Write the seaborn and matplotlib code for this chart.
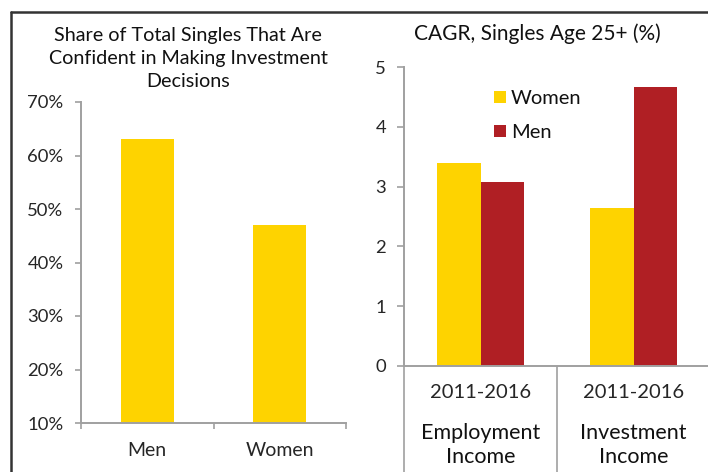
import matplotlib
matplotlib.use("Agg")
import matplotlib.pyplot as plt
import matplotlib.transforms as mtransforms
from matplotlib.lines import Line2D
import seaborn as sns
import pandas as pd

# ---- data ----
left_categories = ["Men", "Women"]
left_values = [63, 47]

right_groups = ["Employment\nIncome", "Investment\nIncome"]
right_period = ["2011-2016", "2011-2016"]
right_series = ["Women", "Men"]
women_cagr = [3.4, 2.65]
men_cagr = [3.08, 4.66]

left_title = "Share of Total Singles That Are\nConfident in Making Investment\nDecisions"
right_title = "CAGR, Singles Age 25+ (%)"

YELLOW = "#FED300"
RED = "#B01F24"
GRAY = "#A0A0A0"

sns.set_theme(style="white")
plt.rcParams["font.family"] = ["Lato", "DejaVu Sans"]
plt.rcParams["text.color"] = "#111111"

fig = plt.figure(figsize=(7.08, 4.72), dpi=100)
W, H = 708, 472

def ax_rect(x0, x1, ytop, ybot):
    return [x0 / W, 1 - ybot / H, (x1 - x0) / W, (ybot - ytop) / H]

# ---- left panel ----
axL = fig.add_axes(ax_rect(81, 346, 102, 423))
dfL = pd.DataFrame({"cat": left_categories, "val": left_values})
sns.barplot(data=dfL, x="cat", y="val", color=YELLOW, width=0.4, ax=axL,
            saturation=1, edgecolor="none")
axL.set_xlim(-0.5, 1.5)
axL.set_ylim(10, 70)
axL.set_yticks(range(10, 71, 10))
axL.set_yticklabels([f"{v}%" for v in range(10, 71, 10)])
axL.set_xlabel("")
axL.set_ylabel("")
axL.set_xticks([0, 1])
axL.set_xticklabels(left_categories)
axL.set_xticks([-0.5, 0.5, 1.5], minor=True)
axL.tick_params(axis="x", which="major", length=0, pad=14, labelsize=14)
axL.tick_params(axis="x", which="minor", length=4.5, width=1.2, color=GRAY, direction="out", bottom=True)
axL.tick_params(axis="y", length=4.5, width=1.2, color=GRAY, direction="out", left=True, pad=8, labelsize=13.3)
for s in ["top", "right"]:
    axL.spines[s].set_visible(False)
for s in ["left", "bottom"]:
    axL.spines[s].set_color(GRAY)
    axL.spines[s].set_linewidth(1.4)

fig.text(188 / W, 1 - 58.5 / H, left_title, ha="center", va="center", fontsize=14.2,
         linespacing=1.45)

# ---- right panel ----
axR = fig.add_axes(ax_rect(404, 710, 67, 366))
dfR = pd.DataFrame({
    "group": right_groups * 2,
    "series": [right_series[0]] * 2 + [right_series[1]] * 2,
    "val": women_cagr + men_cagr,
})
sns.barplot(data=dfR, x="group", y="val", hue="series", hue_order=right_series,
            palette=[YELLOW, RED], width=0.57, gap=0, ax=axR, saturation=1,
            edgecolor="none")
axR.set_xlim(-0.5, 1.5)
axR.set_ylim(0, 5)
axR.set_yticks(range(0, 6))
axR.set_xlabel("")
axR.set_ylabel("")
axR.set_xticks([0, 1])
axR.set_xticklabels(right_period)
axR.set_xticks([-0.5, 0.5, 1.5], minor=True)
axR.tick_params(axis="x", which="major", length=0, pad=13, labelsize=14.5)
axR.tick_params(axis="x", which="minor", length=76, width=1.2, color=GRAY, direction="out", bottom=True)
axR.tick_params(axis="y", length=5, width=1.2, color=GRAY, direction="out", left=True, pad=8, labelsize=13.3)
for s in ["top", "right"]:
    axR.spines[s].set_visible(False)
for s in ["left", "bottom"]:
    axR.spines[s].set_color(GRAY)
    axR.spines[s].set_linewidth(1.4)

trans = mtransforms.blended_transform_factory(axR.transData, fig.transFigure)
for i, g in enumerate(right_groups):
    axR.text(i, 1 - 445 / H, g, transform=trans, ha="center", va="center",
             fontsize=15.5, linespacing=1.3)

leg = axR.legend(loc="upper left", bbox_to_anchor=((486 - 404) / 306, (366 - 82) / 299),
                 frameon=False, fontsize=14.5, handlelength=0.6, handleheight=0.6,
                 handletextpad=0.25, labelspacing=0.85, borderaxespad=0)

fig.text(537 / W, 1 - 34 / H, right_title, ha="center", va="center", fontsize=15)

# ---- outer frame ----
fig.add_artist(Line2D([11 / W, 1.0], [1 - 12 / H, 1 - 12 / H], transform=fig.transFigure,
                      color="#333333", linewidth=1.8))
fig.add_artist(Line2D([11 / W, 11 / W], [1 - 12 / H, 0], transform=fig.transFigure,
                      color="#333333", linewidth=1.8))

fig.savefig("out.png", dpi=100)
